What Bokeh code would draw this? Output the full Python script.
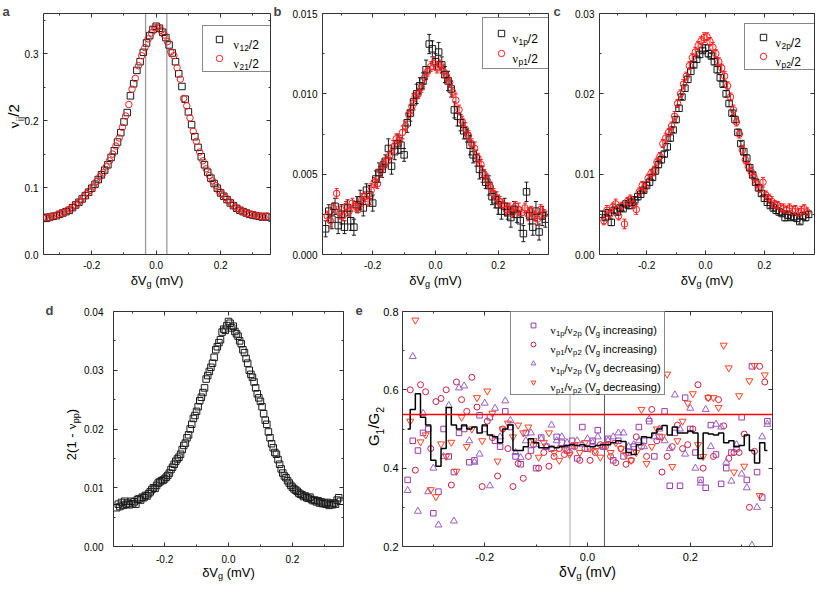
import math
from bokeh.plotting import figure
from bokeh.models import (Range1d, LinearAxis, FixedTicker, PrintfTickFormatter, Label, Span,
                          Legend, LegendItem, Whisker, ColumnDataSource, TeeHead)
from bokeh.layouts import column, row
from bokeh.embed import file_html
from bokeh.resources import INLINE

FONT = "Liberation Sans"
SERIF = "Liberation Serif"
AX = "#333333"

# ---------------- data ----------------
X_FULL = [-0.35, -0.34, -0.33, -0.32, -0.31, -0.30, -0.29, -0.28, -0.27, -0.26,
          -0.25, -0.24, -0.23, -0.22, -0.21, -0.20, -0.19, -0.18, -0.17, -0.16,
          -0.15, -0.14, -0.13, -0.12, -0.11, -0.10, -0.09, -0.08, -0.07, -0.06,
          -0.05, -0.04, -0.03, -0.02, -0.01, 0.00, 0.01, 0.02, 0.03, 0.04,
          0.05, 0.06, 0.07, 0.08, 0.09, 0.10, 0.11, 0.12, 0.13, 0.14,
          0.15, 0.16, 0.17, 0.18, 0.19, 0.20, 0.21, 0.22, 0.23, 0.24,
          0.25, 0.26, 0.27, 0.28, 0.29, 0.30, 0.31, 0.32, 0.33, 0.34, 0.35]
X_HALF = [-0.345, -0.335, -0.325, -0.315, -0.305, -0.295, -0.285, -0.275, -0.265, -0.255,
          -0.245, -0.235, -0.225, -0.215, -0.205, -0.195, -0.185, -0.175, -0.165, -0.155,
          -0.145, -0.135, -0.125, -0.115, -0.105, -0.095, -0.085, -0.075, -0.065, -0.055,
          -0.045, -0.035, -0.025, -0.015, -0.005, 0.005, 0.015, 0.025, 0.035, 0.045,
          0.055, 0.065, 0.075, 0.085, 0.095, 0.105, 0.115, 0.125, 0.135, 0.145,
          0.155, 0.165, 0.175, 0.185, 0.195, 0.205, 0.215, 0.225, 0.235, 0.245,
          0.255, 0.265, 0.275, 0.285, 0.295, 0.305, 0.315, 0.325, 0.335, 0.345]
X_D = sorted(X_FULL + X_HALF)

# panel a: nu_12/2 (on X_FULL), nu_21/2 (on X_HALF)
A_NU12 = [0.055, 0.054, 0.056, 0.057, 0.058, 0.060, 0.062, 0.064, 0.066, 0.070,
          0.074, 0.078, 0.083, 0.088, 0.093, 0.099, 0.105, 0.112, 0.119, 0.126,
          0.134, 0.145, 0.155, 0.168, 0.182, 0.198, 0.212, 0.237, 0.255, 0.275,
          0.288, 0.302, 0.316, 0.327, 0.336, 0.341, 0.338, 0.332, 0.324, 0.313,
          0.301, 0.288, 0.270, 0.251, 0.232, 0.213, 0.194, 0.176, 0.160, 0.146,
          0.134, 0.123, 0.114, 0.106, 0.099, 0.092, 0.087, 0.082, 0.077, 0.073,
          0.069, 0.066, 0.064, 0.062, 0.060, 0.059, 0.058, 0.057, 0.056, 0.057, 0.056]
A_NU21 = [0.056, 0.055, 0.057, 0.058, 0.060, 0.061, 0.063, 0.066, 0.068, 0.072,
          0.076, 0.080, 0.086, 0.091, 0.096, 0.102, 0.109, 0.116, 0.122, 0.131,
          0.140, 0.150, 0.162, 0.174, 0.190, 0.207, 0.224, 0.247, 0.263, 0.282,
          0.297, 0.309, 0.322, 0.331, 0.339, 0.340, 0.335, 0.328, 0.318, 0.303,
          0.297, 0.279, 0.262, 0.233, 0.222, 0.204, 0.184, 0.169, 0.153, 0.140,
          0.128, 0.118, 0.110, 0.103, 0.095, 0.090, 0.085, 0.080, 0.075, 0.071,
          0.068, 0.065, 0.063, 0.061, 0.060, 0.059, 0.058, 0.057, 0.056, 0.057]
A_VLINES = [-0.033, 0.033]

# panel b: nu_1p/2 (X_FULL) and nu_p1/2 (X_HALF) with error bars
B_NU1P = [0.0016, 0.0027, 0.0022, 0.0030, 0.0018, 0.0025, 0.0017, 0.0029, 0.0021, 0.0017,
          0.0031, 0.0034, 0.0029, 0.0040, 0.0037, 0.0032, 0.0047, 0.0051, 0.0053, 0.0058,
          0.0066, 0.0055, 0.0064, 0.0069, 0.0068, 0.0062, 0.0082, 0.0088, 0.0095, 0.0100,
          0.0105, 0.0108, 0.0115, 0.0131, 0.0128, 0.0120, 0.0126, 0.0118, 0.0112, 0.0108,
          0.0103, 0.0090, 0.0086, 0.0082, 0.0077, 0.0074, 0.0068, 0.0062, 0.0060, 0.0053,
          0.0050, 0.0045, 0.0043, 0.0036, 0.0034, 0.0031, 0.0027, 0.0030, 0.0026, 0.0023,
          0.0028, 0.0025, 0.0021, 0.0013, 0.0039, 0.0024, 0.0017, 0.0027, 0.0014, 0.0024, 0.0022]
B_ERR1 = [0.0005, 0.0004, 0.0006, 0.0005, 0.0005, 0.0006, 0.0004, 0.0005, 0.0006, 0.0005,
          0.0005, 0.0006, 0.0005, 0.0004, 0.0006, 0.0005, 0.0005, 0.0006, 0.0005, 0.0004,
          0.0006, 0.0005, 0.0005, 0.0006, 0.0005, 0.0004, 0.0006, 0.0005, 0.0005, 0.0006,
          0.0005, 0.0005, 0.0006, 0.0006, 0.0005, 0.0005, 0.0006, 0.0005, 0.0005, 0.0006,
          0.0005, 0.0005, 0.0006, 0.0005, 0.0005, 0.0004, 0.0006, 0.0005, 0.0005, 0.0006,
          0.0005, 0.0004, 0.0006, 0.0005, 0.0005, 0.0006, 0.0005, 0.0005, 0.0004, 0.0006,
          0.0005, 0.0005, 0.0006, 0.0005, 0.0006, 0.0005, 0.0005, 0.0006, 0.0005, 0.0006, 0.0005]
B_NUP1 = [0.0024, 0.0021, 0.0029, 0.0038, 0.0026, 0.0024, 0.0030, 0.0027, 0.0032, 0.0030,
          0.0029, 0.0034, 0.0036, 0.0033, 0.0040, 0.0045, 0.0044, 0.0052, 0.0056, 0.0058,
          0.0062, 0.0067, 0.0072, 0.0071, 0.0076, 0.0080, 0.0087, 0.0092, 0.0098, 0.0100,
          0.0104, 0.0110, 0.0114, 0.0117, 0.0119, 0.0116, 0.0118, 0.0114, 0.0111, 0.0107,
          0.0101, 0.0096, 0.0090, 0.0083, 0.0078, 0.0074, 0.0069, 0.0066, 0.0060, 0.0056,
          0.0050, 0.0046, 0.0042, 0.0038, 0.0035, 0.0033, 0.0031, 0.0028, 0.0029, 0.0026,
          0.0030, 0.0028, 0.0026, 0.0029, 0.0025, 0.0027, 0.0024, 0.0022, 0.0028, 0.0025]
B_ERR2 = [0.0003, 0.0004, 0.0003, 0.0003, 0.0004, 0.0003, 0.0003, 0.0004, 0.0003, 0.0003,
          0.0003, 0.0004, 0.0003, 0.0003, 0.0004, 0.0003, 0.0003, 0.0004, 0.0003, 0.0003,
          0.0003, 0.0004, 0.0003, 0.0003, 0.0004, 0.0003, 0.0003, 0.0004, 0.0003, 0.0003,
          0.0003, 0.0004, 0.0003, 0.0003, 0.0004, 0.0003, 0.0003, 0.0004, 0.0003, 0.0003,
          0.0003, 0.0004, 0.0003, 0.0003, 0.0004, 0.0003, 0.0003, 0.0004, 0.0003, 0.0003,
          0.0003, 0.0004, 0.0003, 0.0003, 0.0004, 0.0003, 0.0003, 0.0004, 0.0003, 0.0003,
          0.0003, 0.0004, 0.0003, 0.0003, 0.0004, 0.0003, 0.0003, 0.0004, 0.0003, 0.0003]

# panel c: nu_2p/2 (X_FULL) and nu_p2/2 (X_HALF) with error bars
C_NU2P = [0.0050, 0.0046, 0.0052, 0.0040, 0.0055, 0.0053, 0.0058, 0.0057, 0.0063, 0.0061,
          0.0065, 0.0068, 0.0072, 0.0075, 0.0080, 0.0086, 0.0090, 0.0096, 0.0104, 0.0112,
          0.0118, 0.0125, 0.0134, 0.0145, 0.0155, 0.0168, 0.0182, 0.0196, 0.0207, 0.0218,
          0.0228, 0.0236, 0.0243, 0.0249, 0.0254, 0.0257, 0.0250, 0.0247, 0.0240, 0.0230,
          0.0220, 0.0212, 0.0200, 0.0188, 0.0176, 0.0168, 0.0152, 0.0138, 0.0128, 0.0120,
          0.0108, 0.0099, 0.0090, 0.0083, 0.0076, 0.0070, 0.0065, 0.0061, 0.0058, 0.0055,
          0.0053, 0.0051, 0.0046, 0.0049, 0.0046, 0.0047, 0.0045, 0.0041, 0.0048, 0.0046, 0.0050]
C_ERR1 = [0.0004, 0.0003, 0.0004, 0.0004, 0.0003, 0.0004, 0.0004, 0.0003, 0.0004, 0.0004,
          0.0004, 0.0003, 0.0004, 0.0004, 0.0003, 0.0004, 0.0004, 0.0003, 0.0004, 0.0004,
          0.0004, 0.0003, 0.0004, 0.0004, 0.0003, 0.0004, 0.0004, 0.0003, 0.0004, 0.0004,
          0.0004, 0.0003, 0.0004, 0.0004, 0.0003, 0.0004, 0.0004, 0.0003, 0.0004, 0.0004,
          0.0004, 0.0003, 0.0004, 0.0004, 0.0003, 0.0004, 0.0004, 0.0003, 0.0004, 0.0004,
          0.0004, 0.0003, 0.0004, 0.0004, 0.0003, 0.0004, 0.0004, 0.0003, 0.0004, 0.0004,
          0.0004, 0.0003, 0.0004, 0.0004, 0.0003, 0.0004, 0.0004, 0.0003, 0.0004, 0.0004, 0.0004]
C_NUP2 = [0.0042, 0.0055, 0.0050, 0.0059, 0.0063, 0.0048, 0.0060, 0.0038, 0.0066, 0.0069,
          0.0062, 0.0056, 0.0078, 0.0086, 0.0084, 0.0095, 0.0101, 0.0104, 0.0115, 0.0122,
          0.0138, 0.0145, 0.0152, 0.0160, 0.0172, 0.0188, 0.0200, 0.0212, 0.0222, 0.0235,
          0.0245, 0.0252, 0.0260, 0.0266, 0.0270, 0.0271, 0.0265, 0.0258, 0.0250, 0.0240,
          0.0232, 0.0222, 0.0210, 0.0196, 0.0180, 0.0165, 0.0150, 0.0130, 0.0118, 0.0110,
          0.0103, 0.0096, 0.0088, 0.0082, 0.0090, 0.0074, 0.0070, 0.0066, 0.0062, 0.0061,
          0.0058, 0.0057, 0.0055, 0.0058, 0.0054, 0.0056, 0.0052, 0.0054, 0.0057, 0.0053]
C_ERR2 = [0.0005, 0.0006, 0.0005, 0.0005, 0.0006, 0.0005, 0.0005, 0.0006, 0.0005, 0.0005,
          0.0005, 0.0006, 0.0005, 0.0005, 0.0006, 0.0005, 0.0005, 0.0006, 0.0005, 0.0005,
          0.0005, 0.0006, 0.0005, 0.0005, 0.0006, 0.0005, 0.0005, 0.0006, 0.0005, 0.0005,
          0.0005, 0.0006, 0.0005, 0.0005, 0.0006, 0.0005, 0.0005, 0.0006, 0.0005, 0.0005,
          0.0005, 0.0006, 0.0005, 0.0005, 0.0006, 0.0005, 0.0005, 0.0006, 0.0005, 0.0005,
          0.0005, 0.0006, 0.0005, 0.0005, 0.0006, 0.0005, 0.0005, 0.0006, 0.0005, 0.0005,
          0.0005, 0.0006, 0.0005, 0.0005, 0.0006, 0.0005, 0.0005, 0.0006, 0.0005, 0.0005]

# panel d: 2(1 - nu_pp) on X_D
D_VALS = [0.0066, 0.0072, 0.0068, 0.0075, 0.0070, 0.0077, 0.0072, 0.0074, 0.0071, 0.0077,
          0.0073, 0.0076, 0.0072, 0.0080, 0.0081, 0.0079, 0.0084, 0.0083, 0.0087, 0.0086,
          0.0090, 0.0093, 0.0097, 0.0100, 0.0099, 0.0104, 0.0108, 0.0110, 0.0112, 0.0113,
          0.0115, 0.0118, 0.0121, 0.0125, 0.0131, 0.0135, 0.0140, 0.0145, 0.0149, 0.0152,
          0.0157, 0.0165, 0.0172, 0.0176, 0.0185, 0.0190, 0.0200, 0.0208, 0.0218, 0.0223,
          0.0230, 0.0238, 0.0248, 0.0254, 0.0262, 0.0270, 0.0285, 0.0291, 0.0298, 0.0305,
          0.0312, 0.0322, 0.0335, 0.0340, 0.0347, 0.0352, 0.0365, 0.0370, 0.0368, 0.0376,
          0.0383, 0.0380, 0.0372, 0.0375, 0.0366, 0.0362, 0.0358, 0.0350, 0.0345, 0.0335,
          0.0330, 0.0320, 0.0312, 0.0300, 0.0293, 0.0288, 0.0280, 0.0270, 0.0260, 0.0253,
          0.0247, 0.0238, 0.0226, 0.0215, 0.0208, 0.0195, 0.0185, 0.0175, 0.0168, 0.0160,
          0.0157, 0.0148, 0.0140, 0.0132, 0.0125, 0.0120, 0.0117, 0.0112, 0.0108, 0.0104,
          0.0101, 0.0098, 0.0096, 0.0094, 0.0091, 0.0089, 0.0088, 0.0085, 0.0086, 0.0083,
          0.0082, 0.0084, 0.0080, 0.0078, 0.0079, 0.0076, 0.0078, 0.0074, 0.0076, 0.0073,
          0.0074, 0.0072, 0.0075, 0.0070, 0.0073, 0.0071, 0.0074, 0.0072, 0.0079, 0.0083, 0.0077]

# panel e: G1/G2 ratios
E_SQ = [0.37, 0.47, 0.445, 0.49, 0.50, 0.285, 0.34, 0.50, 0.43, 0.39,
        0.49, 0.50, 0.415, 0.42, 0.535, 0.50, 0.53, 0.47, 0.455, 0.545,
        0.505, 0.43, 0.41, 0.49, 0.445, 0.40, 0.478, 0.455, 0.45, 0.48,
        0.465, 0.445, 0.47, 0.425, 0.505, 0.45, 0.47, 0.497, 0.455, 0.475,
        0.42, 0.47, 0.43, 0.44, 0.455, 0.505, 0.47, 0.52, 0.43, 0.48,
        0.545, 0.355, 0.49, 0.355, 0.58, 0.50, 0.44, 0.37, 0.35, 0.51,
        0.435, 0.36, 0.40, 0.44, 0.45, 0.53, 0.37, 0.66, 0.39, 0.325, 0.52]
E_CI = [0.60, 0.395, 0.613, 0.595, 0.45, 0.57, 0.578, 0.60, 0.357, 0.62,
        0.575, 0.545, 0.632, 0.556, 0.353, 0.52, 0.478, 0.38, 0.50, 0.45,
        0.353, 0.412, 0.374, 0.43, 0.46, 0.40, 0.44, 0.405, 0.43, 0.45,
        0.435, 0.44, 0.455, 0.42, 0.45, 0.42, 0.44, 0.46, 0.455, 0.43,
        0.414, 0.45, 0.41, 0.42, 0.48, 0.455, 0.43, 0.55, 0.47, 0.39,
        0.43, 0.455, 0.51, 0.45, 0.46, 0.50, 0.613, 0.40, 0.58, 0.43,
        0.575, 0.508, 0.425, 0.44, 0.44, 0.487, 0.30, 0.443, 0.66, 0.62]
E_TR = [0.343, 0.685, 0.29, 0.54, 0.34, 0.40, 0.255, 0.43, 0.56, 0.265,
        0.605, 0.61, 0.47, 0.415, 0.436, 0.566, 0.355, 0.553, 0.48, 0.572,
        0.522, 0.44, 0.427, 0.47, 0.49, 0.46, 0.475, 0.455, 0.51, 0.47,
        0.48, 0.465, 0.455, 0.47, 0.46, 0.475, 0.465, 0.48, 0.455, 0.47,
        0.48, 0.49, 0.49, 0.455, 0.46, 0.47, 0.455, 0.525, 0.48, 0.50,
        0.47, 0.45, 0.587, 0.50, 0.436, 0.553, 0.40, 0.362, 0.55, 0.455,
        0.512, 0.505, 0.415, 0.367, 0.46, 0.385, 0.35, 0.203, 0.30, 0.48, 0.512]
E_IT = [0.52, 0.778, 0.467, 0.485, 0.345, 0.327, 0.462, 0.43, 0.466, 0.392,
        0.53, 0.455, 0.50, 0.58, 0.47, 0.597, 0.54, 0.418, 0.50, 0.515,
        0.48, 0.51, 0.49, 0.505, 0.47, 0.428, 0.465, 0.49, 0.44, 0.42,
        0.45, 0.435, 0.46, 0.44, 0.465, 0.45, 0.445, 0.428, 0.46, 0.44,
        0.465, 0.45, 0.435, 0.42, 0.44, 0.55, 0.412, 0.455, 0.50, 0.48,
        0.64, 0.404, 0.47, 0.52, 0.566, 0.59, 0.46, 0.43, 0.58, 0.58,
        0.555, 0.714, 0.656, 0.39, 0.585, 0.405, 0.623, 0.662, 0.33, 0.638]
E_STEP = [0.50, 0.55, 0.59, 0.53, 0.51, 0.42, 0.405, 0.45, 0.555, 0.51,
          0.50, 0.51, 0.50, 0.505, 0.49, 0.51, 0.485, 0.48, 0.465, 0.50,
          0.51, 0.445, 0.445, 0.455, 0.475, 0.465, 0.452, 0.452, 0.455, 0.452,
          0.455, 0.457, 0.46, 0.458, 0.46, 0.456, 0.455, 0.458, 0.46, 0.46,
          0.465, 0.47, 0.468, 0.44, 0.435, 0.46, 0.48, 0.478, 0.49, 0.50,
          0.509, 0.485, 0.505, 0.49, 0.49, 0.495, 0.49, 0.425, 0.49, 0.487,
          0.485, 0.49, 0.465, 0.47, 0.455, 0.458, 0.485, 0.445, 0.413, 0.465, 0.445]
E_RATIO = 0.537
E_VLINES = [-0.034, 0.033]

for name, arr, ref in [("A_NU12", A_NU12, X_FULL), ("A_NU21", A_NU21, X_HALF),
                       ("B_NU1P", B_NU1P, X_FULL), ("B_ERR1", B_ERR1, X_FULL),
                       ("B_NUP1", B_NUP1, X_HALF), ("B_ERR2", B_ERR2, X_HALF),
                       ("C_NU2P", C_NU2P, X_FULL), ("C_ERR1", C_ERR1, X_FULL),
                       ("C_NUP2", C_NUP2, X_HALF), ("C_ERR2", C_ERR2, X_HALF),
                       ("D_VALS", D_VALS, X_D), ("E_SQ", E_SQ, X_FULL), ("E_CI", E_CI, X_HALF),
                       ("E_TR", E_TR, X_FULL), ("E_IT", E_IT, X_HALF), ("E_STEP", E_STEP, X_FULL)]:
    assert len(arr) == len(ref), (name, len(arr), len(ref))

# ---------------- text overlay (page pixel coordinates) ----------------
PAGE_W, PAGE_H = 815, 583
ov = figure(width=PAGE_W, height=PAGE_H, x_range=Range1d(0, PAGE_W), y_range=Range1d(PAGE_H, 0),
            output_backend="svg", toolbar_location=None, min_border=0,
            x_axis_location=None, y_axis_location=None)
ov.grid.visible = False
ov.outline_line_color = None
ov.background_fill_color = None
ov.border_fill_color = None
ov.margin = (-PAGE_H, 0, 0, 0)

CW = {'δ': 0.556, 'V': 0.667, 'g': 0.556, ' ': 0.278, '(': 0.333, ')': 0.333, 'm': 0.833,
      'ν': 0.5, 'i': 0.222, 'j': 0.222, '/': 0.278, '2': 0.556, '1': 0.556, 'p': 0.556,
      '-': 0.333, 'G': 0.778, 'n': 0.556, 'c': 0.5, 'r': 0.333, 'e': 0.556, 'a': 0.556,
      's': 0.5, 'd': 0.556}


def tw(s, fs):
    return sum(CW.get(c, 0.556) for c in s) * fs


def rich(parts, x, y, fs, vertical=False, align="center", color="black"):
    """parts: (text, is_subscript[, font]).
    horizontal: x,y = page px of the baseline anchor.
    vertical (reads bottom to top): x = page px of the baseline, y = centre of the text run."""
    sfs = round(fs * 0.7, 1)
    total = sum(tw(pt[0], sfs if pt[1] else fs) for pt in parts)
    if vertical:
        pos = y + total / 2
    else:
        pos = x - total / 2 if align == "center" else x
    for pt in parts:
        t, s = pt[0], pt[1]
        fnt = pt[2] if len(pt) > 2 else FONT
        f = sfs if s else fs
        shift = fs * 0.3 if s else 0
        w = tw(t, f)
        if t.strip():
            if vertical:
                lab = Label(x=x + shift - 0.33 * f, y=pos - w / 2, angle=math.pi / 2,
                            text_align="center", text_baseline="middle")
            else:
                lab = Label(x=pos, y=y + shift, text_align="left", text_baseline="alphabetic")
            lab.text = t
            lab.text_font = fnt
            lab.text_font_size = f"{f}px"
            lab.text_color = color
            ov.add_layout(lab)
        pos = pos - w if vertical else pos + w


def letter(t, x, y):
    ov.add_layout(Label(x=x, y=y, text=t, text_font=FONT, text_font_size="13px",
                        text_font_style="bold", text_baseline="alphabetic"))


# ---------------- figure helpers ----------------
def make_fig(w, h, ml, mr, mt, mb, xr, yr):
    p = figure(width=w, height=h, x_range=Range1d(*xr), y_range=Range1d(*yr),
               output_backend="svg", toolbar_location=None,
               min_border_left=ml, min_border_right=mr, min_border_top=mt, min_border_bottom=mb,
               x_axis_location=None, y_axis_location=None)
    p.grid.visible = False
    p.outline_line_color = None
    p.background_fill_color = "white"
    p.border_fill_color = "white"
    return p


def add_axes(p, xt, xm, yt, ym, xfmt, yfmt, fs, xso, yso):
    xtick = FixedTicker(ticks=xt, minor_ticks=xm)
    ytick = FixedTicker(ticks=yt, minor_ticks=ym)
    for loc, tk, fmt, so in (("below", xtick, xfmt, xso), ("above", xtick, None, 0),
                             ("left", ytick, yfmt, yso), ("right", ytick, None, 0)):
        ax = LinearAxis(ticker=tk)
        if fmt:
            ax.formatter = PrintfTickFormatter(format=fmt)
            ax.major_label_text_font_size = fs
            ax.major_label_text_font = FONT
            ax.major_label_text_color = "black"
            ax.major_label_standoff = so
        else:
            ax.major_label_text_font_size = "0px"
            ax.major_label_text_color = None
            ax.major_label_standoff = 0
        ax.axis_line_color = AX
        ax.axis_line_width = 1
        ax.major_tick_line_color = AX
        ax.minor_tick_line_color = AX
        ax.major_tick_in = 4
        ax.major_tick_out = 0
        ax.minor_tick_in = 2
        ax.minor_tick_out = 0
        p.add_layout(ax, loc)


def add_legend(p, renderers, loc, pad, spacing, gw, gh, lh, standoff, lw):
    leg = Legend(items=[LegendItem(label=" ", renderers=[r]) for r in renderers], location=loc)
    leg.label_text_font = FONT
    leg.label_text_font_size = "1px"
    leg.label_width = lw
    leg.padding = pad
    leg.spacing = spacing
    leg.glyph_width = gw
    leg.glyph_height = gh
    leg.label_height = lh
    leg.label_standoff = standoff
    leg.margin = 0
    leg.border_line_color = "#111111"
    leg.border_line_width = 1.5
    leg.background_fill_alpha = 1
    p.add_layout(leg)


def whisk(p, xs, ys, es, color):
    src = ColumnDataSource(dict(x=xs, lo=[y - e for y, e in zip(ys, es)], hi=[y + e for y, e in zip(ys, es)]))
    w = Whisker(source=src, base="x", lower="lo", upper="hi", line_color=color, line_width=1,
                upper_head=TeeHead(size=4, line_color=color, line_width=1),
                lower_head=TeeHead(size=4, line_color=color, line_width=1), level="underlay")
    p.add_layout(w)


XT = [-0.2, 0.0, 0.2]
XM = [-0.3, -0.1, 0.1, 0.3]
XLAB = [("δV", 0), ("g", 1), (" ", 0), ("(mV)", 0)]
BLACK = "#1a1a1a"
RED = "#ff1a1a"

# ---------------- panel a ----------------
pa = make_fig(288, 292, 43, 18, 13, 38, (-0.35, 0.355), (0.0, 0.36))
add_axes(pa, XT, XM, [0.0, 0.1, 0.2, 0.3], [0.05, 0.15, 0.25, 0.35], "%.1f", "%.1f", "10px", 6, 5)
for v in A_VLINES:
    pa.add_layout(Span(location=v, dimension="height", line_color="#9a9a9a", line_width=1.3, level="underlay"))
ra1 = pa.scatter(X_FULL, A_NU12, marker="square", size=6.5, fill_color=None, line_color=BLACK, line_width=1)
ra2 = pa.scatter(X_HALF, A_NU21, marker="circle", size=6.5, fill_color=None, line_color=RED, line_width=1)
add_legend(pa, [ra1, ra2], (159, 182), 5, 3, 22, 16, 16, 4, 31)
rich([("ν", 0, SERIF), ("12", 1), ("/2", 0)], 233, 44, 12, align="left")
rich([("ν", 0, SERIF), ("21", 1), ("/2", 0)], 233, 63, 12, align="left")
rich(XLAB, 156.5, 280, 13)
rich([("ν", 0, SERIF), ("ij", 1), ("/2", 0)], 18, 116, 15, vertical=True)
letter("a", 2, 11)
letter("b", 273, 11)

# ---------------- panel b ----------------
pb = make_fig(280, 292, 34, 20, 13, 38, (-0.36, 0.36), (0.0, 0.015))
add_axes(pb, XT, XM, [0.0, 0.005, 0.010, 0.015], [0.0025, 0.0075, 0.0125], "%.1f", "%.3f", "10px", 6, 5)
whisk(pb, X_FULL, B_NU1P, B_ERR1, BLACK)
whisk(pb, X_HALF, B_NUP1, B_ERR2, RED)
rb1 = pb.scatter(X_FULL, B_NU1P, marker="square", size=6.5, fill_color=None, line_color=BLACK, line_width=1)
rb2 = pb.scatter(X_HALF, B_NUP1, marker="circle", size=6.5, fill_color=None, line_color=RED, line_width=1)
add_legend(pb, [rb1, rb2], (160, 185), 6, 2, 24, 16, 18, 0, 30)
rich([("ν", 0, SERIF), ("1p", 1), ("/2", 0)], 512, 38, 12, align="left")
rich([("ν", 0, SERIF), ("p1", 1), ("/2", 0)], 512, 58, 12, align="left")
rich(XLAB, 435, 280, 13)
letter("c", 553, 11)

# ---------------- panel c ----------------
pc = make_fig(247, 292, 31, 1, 13, 38, (-0.36, 0.37), (0.0, 0.03))
add_axes(pc, XT, XM, [0.0, 0.01, 0.02, 0.03], [0.005, 0.015, 0.025], "%.1f", "%.2f", "10px", 6, 5)
whisk(pc, X_FULL, C_NU2P, C_ERR1, BLACK)
whisk(pc, X_HALF, C_NUP2, C_ERR2, RED)
rc1 = pc.scatter(X_FULL, C_NU2P, marker="square", size=6.5, fill_color=None, line_color=BLACK, line_width=1)
rc2 = pc.scatter(X_HALF, C_NUP2, marker="circle", size=6.5, fill_color=None, line_color=RED, line_width=1)
add_legend(pc, [rc1, rc2], (145, 184), 5, 3, 26, 16, 16, 0, 34)
rich([("ν", 0, SERIF), ("2p", 1), ("/2", 0)], 775, 42, 12, align="left")
rich([("ν", 0, SERIF), ("p2", 1), ("/2", 0)], 775, 61, 12, align="left")
rich(XLAB, 706.5, 280, 13)

# ---------------- panel d ----------------
pd_ = make_fig(366, 291, 113, 23, 19, 37, (-0.36, 0.36), (0.0, 0.04))
add_axes(pd_, XT, XM, [0.0, 0.01, 0.02, 0.03, 0.04], [0.005, 0.015, 0.025, 0.035], "%.1f", "%.2f", "10px", 8, 10)
pd_.scatter(X_D, D_VALS, marker="square", size=6.5, fill_color=None, line_color=BLACK, line_width=1)
rich(XLAB, 228, 572, 13)
rich([("2(1 -", 0), (" ", 0), ("ν", 0, SERIF), ("pp", 1), (")", 0)], 75, 434, 13, vertical=True)
letter("d", 45, 310)
letter("e", 355, 310)

# ---------------- panel e ----------------
pe = make_fig(449, 291, 36, 43, 19, 37, (-0.36, 0.36), (0.2, 0.8))
add_axes(pe, XT, XM, [0.2, 0.4, 0.6, 0.8], [0.3, 0.5, 0.7], "%.1f", "%.1f", "11px", 6, 4)
pe.add_layout(Span(location=E_VLINES[0], dimension="height", line_color="#aaaaaa", line_width=1, level="underlay"))
pe.add_layout(Span(location=E_VLINES[1], dimension="height", line_color="#555555", line_width=1, level="underlay"))
re1 = pe.scatter(X_FULL, E_SQ, marker="square", size=5.5, fill_color=None, line_color="#9a3aa8", line_width=1)
re2 = pe.scatter(X_HALF, E_CI, marker="circle", size=6, fill_color=None, line_color="#cc1f45", line_width=1)
re3 = pe.scatter(X_FULL, E_TR, marker="triangle", size=7, fill_color=None, line_color="#9a5fc8", line_width=1)
re4 = pe.scatter(X_HALF, E_IT, marker="inverted_triangle", size=7, fill_color=None, line_color="#ff4020", line_width=1)
pe.step(X_FULL, E_STEP, mode="center", line_color="black", line_width=1.5)
pe.add_layout(Span(location=E_RATIO, dimension="width", line_color="#ff0000", line_width=1.6))
add_legend(pe, [re1, re2, re3, re4], (108, 151), 4, 2, 36, 12, 17, 0, 109)
E_LEG = [("1p", "2p", "increasing"), ("p1", "p2", "increasing"),
         ("1p", "2p", "decreasing"), ("p1", "p2", "decreasing")]
for i, (s1, s2, word) in enumerate(E_LEG):
    rich([("ν", 0, SERIF), (s1, 1), ("/", 0), ("ν", 0, SERIF), (s2, 1), (" ", 0), ("(V", 0), ("g", 1),
          (" ", 0), (word + ")", 0)], 550, 329.4 + 19 * i, 11, align="left")
rich(XLAB, 587, 571, 14)
rich([("G", 0), ("1", 1), ("/G", 0), ("2", 1)], 378, 426, 15, vertical=True)

layout = column(column(row(pa, pb, pc), row(pd_, pe)), ov)
open("out.html", "w").write(file_html(layout, INLINE))
